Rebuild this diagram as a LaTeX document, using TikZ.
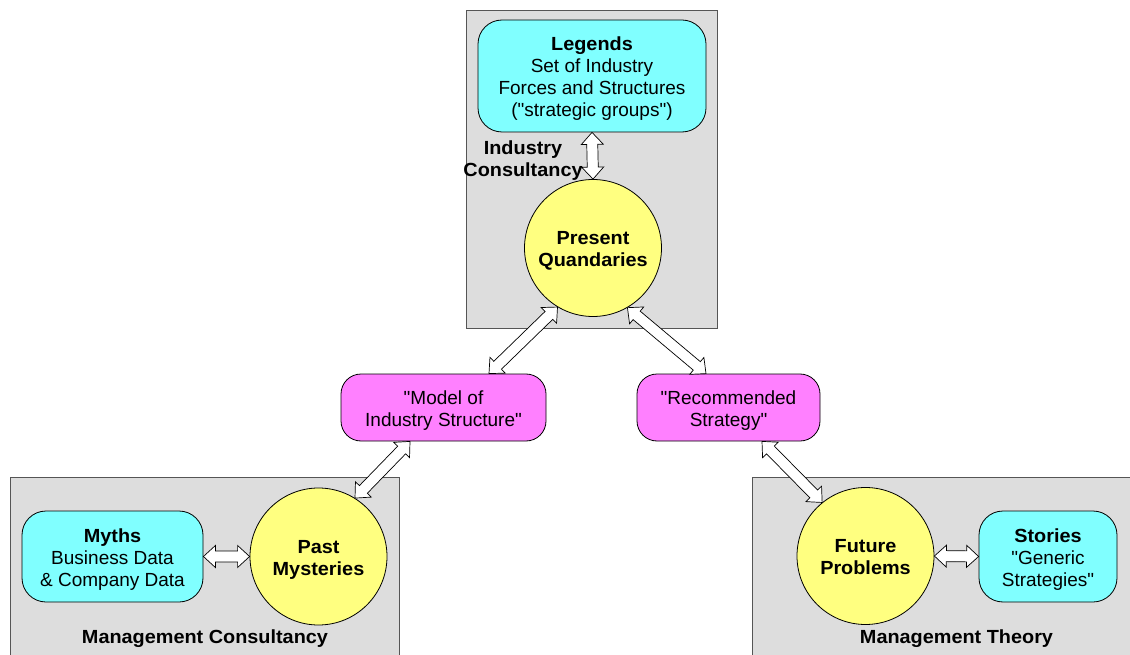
\documentclass[tikz,border=0pt]{standalone}
\usepackage{fontspec}
\setmainfont{Liberation Sans}[BoldFeatures={FakeStretch=1.045}]
\usetikzlibrary{calc}
\definecolor{panelgray}{HTML}{DDDDDD}
\definecolor{panelline}{HTML}{555555}
\definecolor{cyanfill}{HTML}{80FFFF}
\definecolor{yellowfill}{HTML}{FFFF80}
\definecolor{magentafill}{HTML}{FF80FF}
\newcommand\qt{\textquotedbl}
\newcommand\txtlines[1]{\raisebox{-3.5pt}[\height][\depth]{\begin{tabular}{@{}c@{}}#1\end{tabular}}}
\newcommand\blockarrow[2]{%
  \coordinate (ba1) at ($(#1)!12pt!(#2)$);
  \coordinate (ba2) at ($(#2)!12pt!(#1)$);
  \filldraw[arrowshape] (#1) -- ($(ba1)!11pt!90:(#2)$) -- ($(ba1)!5.5pt!90:(#2)$)
    -- ($(ba2)!5.5pt!-90:(#1)$) -- ($(ba2)!11pt!-90:(#1)$) -- (#2)
    -- ($(ba2)!11pt!90:(#1)$) -- ($(ba2)!5.5pt!90:(#1)$)
    -- ($(ba1)!5.5pt!-90:(#2)$) -- ($(ba1)!11pt!-90:(#2)$) -- cycle;}
\begin{document}
\begin{tikzpicture}[x=1pt,y=-1pt,
  every node/.style={font=\fontsize{19}{22}\selectfont, inner sep=0pt},
  panel/.style={fill=panelgray, draw=panelline, line width=0.9pt},
  infobox/.style={draw=black, line width=0.8pt, fill=cyanfill, rounded corners=24pt},
  quotebox/.style={draw=black, line width=0.8pt, fill=magentafill, rounded corners=20pt},
  timecircle/.style={circle, draw=black, line width=0.8pt, fill=yellowfill, minimum size=137pt, font=\fontsize{19}{22}\selectfont\bfseries},
  panellabel/.style={font=\fontsize{19}{22}\selectfont\bfseries},
  arrowshape/.style={fill=white, draw=black, line width=0.7pt, line join=miter}]
\useasboundingbox (0,0) rectangle (1130,655);
% panels
\draw[panel] (466,10) rectangle (717,328);
\draw[panel] (10,477) rectangle (399,665);
\draw[panel] (752,477) rectangle (1140,665);
% boxes
\node[infobox, minimum width=228pt, minimum height=112pt] (legends) at (592,76)
  {\txtlines{\textbf{Legends}\\Set of Industry\\Forces and Structures\\(\qt strategic groups\qt)}};
\node[infobox, minimum width=181pt, minimum height=91pt] (myths) at (112.5,556.5)
  {\txtlines{\textbf{Myths}\\Business Data\\\& Company Data}};
\node[infobox, minimum width=138pt, minimum height=91pt] (stories) at (1048,556.5)
  {\txtlines{\textbf{Stories}\\\qt Generic\\Strategies\qt}};
\node[quotebox, minimum width=205pt, minimum height=67pt] (model) at (443.5,407.5)
  {\txtlines{\qt Model of\\Industry Structure\qt}};
\node[quotebox, minimum width=183pt, minimum height=67pt] (rec) at (728.5,407.5)
  {\txtlines{\qt Recommended\\Strategy\qt}};
% circles
\node[timecircle] (pq) at (593,248) {\txtlines{Present\\Quandaries}};
\node[timecircle] (past) at (318.5,556.5) {\txtlines{Past\\Mysteries}};
\node[timecircle] (fut) at (865.5,556) {\txtlines{Future\\Problems}};
% panel labels
\node[panellabel] (lblind) at (523,157.5) {\txtlines{Industry\\Consultancy}};
\node[panellabel] (lblmc) at (205,636) {\txtlines{Management Consultancy}};
\node[panellabel] (lblmt) at (956.5,636) {\txtlines{Management Theory}};
% connector end points
\coordinate (a1) at (legends.south);
\coordinate (a2) at (pq.north);
\coordinate (b1) at (pq.239);
\coordinate (b2) at ($(model.north)+(45.5,0)$);
\coordinate (c1) at (pq.-60);
\coordinate (c2) at ($(rec.north)+(-22.5,0)$);
\coordinate (d1) at ($(model.south)+(-33.5,0)$);
\coordinate (d2) at (past.58.6);
\coordinate (e1) at ($(rec.south)+(33.5,0)$);
\coordinate (e2) at (fut.129);
\coordinate (f1) at (myths.east);
\coordinate (f2) at (past.west);
\coordinate (g1) at (fut.east);
\coordinate (g2) at (stories.west);
% connectors
\blockarrow{a1}{a2}
\blockarrow{b1}{b2}
\blockarrow{c1}{c2}
\blockarrow{d1}{d2}
\blockarrow{e1}{e2}
\blockarrow{f1}{f2}
\blockarrow{g1}{g2}
\end{tikzpicture}
\end{document}
